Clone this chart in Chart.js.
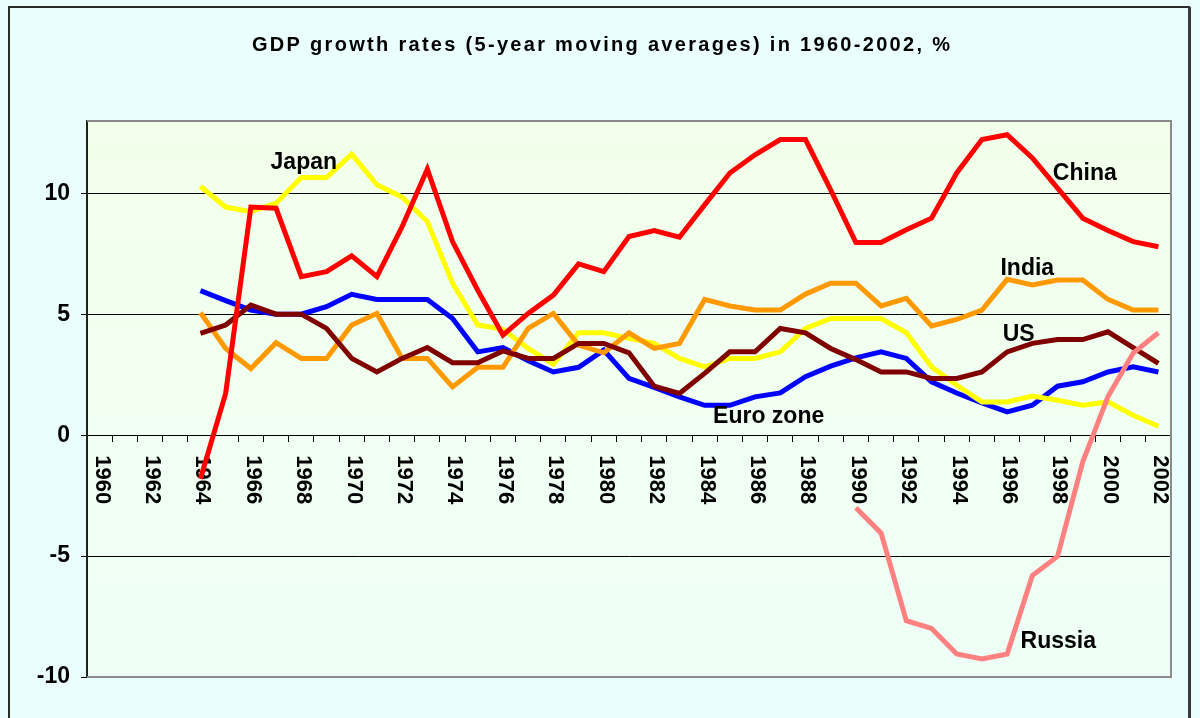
<!DOCTYPE html>
<html><head><meta charset="utf-8">
<script src="https://cdn.jsdelivr.net/npm/chart.js@4.4.0/dist/chart.umd.min.js"></script>
<style>html,body{margin:0;padding:0;background:#EAFEFE;}canvas{display:block;}</style>
</head><body>
<div style="width:1200px;height:718px;position:relative"><canvas id="c" width="1200" height="718"></canvas></div>
<script>
const years = ['1960','1961','1962','1963','1964','1965','1966','1967','1968','1969','1970','1971','1972','1973','1974','1975','1976','1977','1978','1979','1980','1981','1982','1983','1984','1985','1986','1987','1988','1989','1990','1991','1992','1993','1994','1995','1996','1997','1998','1999','2000','2001','2002'];
const tickLabels = ['1960','','1962','','1964','','1966','','1968','','1970','','1972','','1974','','1976','','1978','','1980','','1982','','1984','','1986','','1988','','1990','','1992','','1994','','1996','','1998','','2000','','2002'];

const china = [null,null,null,null,-1.8,1.73,9.44,9.39,6.56,6.77,7.42,6.56,8.63,11.01,8.01,6.0,4.14,5.04,5.80,7.09,6.77,8.22,8.47,8.19,9.53,10.85,11.60,12.23,12.23,10.15,7.97,7.97,8.50,8.98,10.85,12.23,12.43,11.47,10.22,8.98,8.47,8.01,7.80];
const india = [null,null,null,null,5.07,3.59,2.76,3.83,3.18,3.18,4.56,5.04,3.18,3.18,2.0,2.81,2.81,4.42,5.04,3.73,3.41,4.24,3.59,3.80,5.62,5.35,5.18,5.18,5.84,6.29,6.29,5.35,5.66,4.52,4.79,5.18,6.45,6.22,6.42,6.42,5.62,5.18,5.18];
const japan = [null,null,null,null,10.29,9.44,9.25,9.6,10.66,10.66,11.63,10.36,9.85,8.84,6.29,4.56,4.38,3.59,2.94,4.24,4.24,4.01,3.80,3.18,2.83,3.18,3.18,3.45,4.42,4.83,4.83,4.83,4.24,2.83,2.07,1.38,1.38,1.62,1.45,1.24,1.38,0.83,0.37];
const euro = [null,null,null,null,5.98,5.57,5.18,5.01,5.01,5.32,5.83,5.62,5.62,5.62,4.83,3.45,3.63,3.08,2.62,2.81,3.52,2.35,1.98,1.59,1.24,1.24,1.59,1.75,2.42,2.86,3.2,3.45,3.18,2.21,1.75,1.34,0.97,1.24,2.03,2.21,2.62,2.83,2.62];
const us = [null,null,null,null,4.21,4.56,5.39,5.01,5.01,4.42,3.18,2.62,3.18,3.63,3.0,3.0,3.49,3.18,3.18,3.80,3.80,3.41,2.03,1.73,2.56,3.45,3.45,4.42,4.24,3.59,3.13,2.62,2.62,2.35,2.35,2.62,3.45,3.80,3.96,3.96,4.28,3.63,2.97];
const russia = [null,null,null,null,null,null,null,null,null,null,null,null,null,null,null,null,null,null,null,null,null,null,null,null,null,null,null,null,null,null,-3.0,-4.05,-7.67,-7.99,-9.05,-9.25,-9.05,-5.80,-5.01,-1.1,1.6,3.4,4.24];

const seriesNames = ['Japan','China','India','US','Euro zone','Russia'];
// label anchor positions in data coordinates (year, value at text baseline)
const labelYears = [1968.1, 1999.08, 1996.8, 1996.46, 1986.54, 1998.03];
const labelValues = [11.01, 10.54, 6.63, 3.91, 0.51, -8.80];

const titleText = 'GDP growth rates (5-year moving averages) in 1960-2002, %';
const FONT = '"Liberation Sans", Arial, sans-serif';

const decor = {
  id: 'decor',
  beforeDraw(chart) {
    const {ctx, chartArea: a} = chart;
    ctx.save();
    ctx.fillStyle = '#EAFEFE';
    ctx.fillRect(0, 0, chart.width, chart.height);
    const g = ctx.createLinearGradient(0, a.top, 0, a.bottom);
    g.addColorStop(0, '#F2FFEA');
    g.addColorStop(1, '#EEFFF7');
    ctx.fillStyle = g;
    ctx.fillRect(a.left, a.top, a.right - a.left, a.bottom - a.top);
    // outer frame
    ctx.strokeStyle = '#2a2a2a';
    ctx.lineWidth = 2;
    ctx.strokeRect(9, 7, 1180, 740);
    ctx.strokeStyle = '#3a3a3a';
    ctx.lineWidth = 3;
    ctx.beginPath(); ctx.moveTo(1189.5, 7); ctx.lineTo(1189.5, 718); ctx.stroke();
    // title
    ctx.fillStyle = '#000';
    ctx.font = 'bold 20px ' + FONT;
    ctx.textBaseline = 'alphabetic';
    ctx.textAlign = 'left';
    ctx.letterSpacing = '2.3px';
    ctx.fillText(titleText, 252, 51);
    ctx.letterSpacing = '0px';
    ctx.restore();
  },
  beforeDatasetsDraw(chart) {
    const {ctx, chartArea: a, scales} = chart;
    ctx.save();
    // plot border (top, right, bottom)
    ctx.strokeStyle = '#8a8a8a';
    ctx.lineWidth = 2;
    ctx.beginPath();
    ctx.moveTo(a.left, a.top); ctx.lineTo(a.right, a.top);
    ctx.lineTo(a.right, a.bottom); ctx.lineTo(a.left, a.bottom);
    ctx.stroke();
    // x tick labels, rotated clockwise, below the zero line
    const y0 = scales.y.getPixelForValue(0);
    ctx.fillStyle = '#000';
    ctx.font = 'bold 22px ' + FONT;
    ctx.textAlign = 'left';
    ctx.textBaseline = 'middle';
    tickLabels.forEach((t, i) => {
      if (!t) return;
      const x = scales.x.getPixelForValue(i) + 2;
      ctx.save();
      ctx.translate(x, y0 + 20);
      ctx.rotate(Math.PI / 2);
      ctx.fillText(t, 0, 0);
      ctx.restore();
    });
    ctx.restore();
  },
  afterDatasetsDraw(chart) {
    const {ctx, scales} = chart;
    ctx.save();
    ctx.fillStyle = '#000';
    ctx.font = 'bold 23px ' + FONT;
    ctx.textAlign = 'center';
    ctx.textBaseline = 'alphabetic';
    seriesNames.forEach((n, i) => {
      const x = scales.x.getPixelForValue(labelYears[i] - 1960);
      const y = scales.y.getPixelForValue(labelValues[i]);
      ctx.fillText(n, x, y);
    });
    ctx.restore();
  }
};

const ds = (label, data, color) => ({label, data, borderColor: color, backgroundColor: color, borderWidth: 5, pointRadius: 0, tension: 0, fill: false});

new Chart(document.getElementById('c'), {
  type: 'line',
  data: {
    labels: years,
    datasets: [
      ds('Russia', russia, '#FF8080'),
      ds('China', china, '#FF0000'),
      ds('US', us, '#800000'),
      ds('India', india, '#FF9900'),
      ds('Japan', japan, '#FFFF00'),
      ds('Euro zone', euro, '#0000FF')
    ]
  },
  options: {
    responsive: false,
    animation: false,
    devicePixelRatio: 1,
    layout: {padding: {left: 0, top: 121, right: 29, bottom: 41}},
    plugins: {legend: {display: false}, tooltip: {enabled: false}, title: {display: false}},
    elements: {point: {radius: 0}, line: {borderJoinStyle: 'miter'}},
    scales: {
      x: {
        type: 'category',
        offset: true,
        position: {y: 0},
        grid: {display: true, drawOnChartArea: false, drawTicks: true, tickLength: 6, color: '#000', lineWidth: 1, offset: true},
        border: {display: true, color: '#000', width: 1},
        ticks: {display: false, autoSkip: false}
      },
      y: {
        min: -10,
        max: 13,
        afterBuildTicks: s => { s.ticks = s.ticks.filter(t => t.value % 5 === 0); },
        afterFit: s => { s.width = 87; },
        ticks: {stepSize: 5, color: '#000', padding: 11, font: {family: FONT, size: 23, weight: 'bold'}},
        grid: {color: '#000', lineWidth: 1, tickLength: 6, drawTicks: true},
        border: {color: '#222', width: 2}
      }
    }
  },
  plugins: [decor]
});
</script>
</body></html>
